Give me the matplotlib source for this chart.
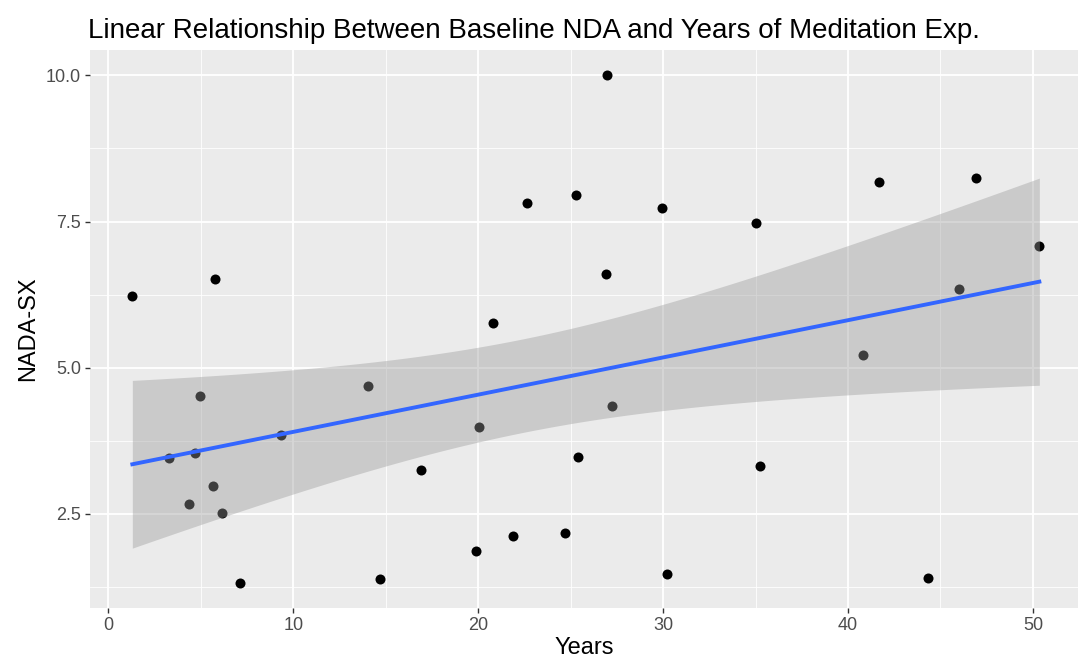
#!/usr/bin/env python3
"""Scatter of baseline NADA-SX vs years of meditation, with lm fit and 95% band."""

import numpy as np
import matplotlib
matplotlib.use("Agg")
import matplotlib.pyplot as plt
from matplotlib.ticker import MultipleLocator

years = [1.30, 5.77, 4.96, 14.06, 3.30, 4.69, 9.34, 5.64, 4.35, 6.17, 7.12, 14.69,
         16.93, 26.99, 22.64, 25.31, 29.96, 26.93, 20.81, 20.05, 27.26, 25.39, 19.90,
         21.90, 24.68, 30.22, 35.01, 41.70, 46.91, 50.35, 46.03, 40.80, 35.25, 44.35]
nada_sx = [6.23, 6.52, 4.52, 4.68, 3.45, 3.54, 3.85, 2.98, 2.67, 2.52, 1.32, 1.39,
           3.25, 10.00, 7.82, 7.95, 7.74, 6.60, 5.76, 3.99, 4.35, 3.48, 1.86,
           2.12, 2.18, 1.47, 7.48, 8.17, 8.24, 7.08, 6.35, 5.21, 3.32, 1.40]

x_ticks = [0, 10, 20, 30, 40, 50]
y_ticks = [2.5, 5.0, 7.5, 10.0]
y_tick_labels = ["2.5", "5.0", "7.5", "10.0"]

title = "Linear Relationship Between Baseline NDA and Years of Meditation Exp."
x_label = "Years"
y_label = "NADA-SX"

T_975_DF32 = 2.0369  # t quantile for 95% interval, n - 2 = 32


def lm_band(x, y, n_grid=80):
    x = np.asarray(x)
    y = np.asarray(y)
    n = len(x)
    slope, intercept = np.polyfit(x, y, 1)
    resid = y - (slope * x + intercept)
    s = np.sqrt(np.sum(resid ** 2) / (n - 2))
    xbar = x.mean()
    sxx = np.sum((x - xbar) ** 2)
    grid = np.linspace(x.min(), x.max(), n_grid)
    fit = slope * grid + intercept
    se = s * np.sqrt(1.0 / n + (grid - xbar) ** 2 / sxx)
    return grid, fit, fit - T_975_DF32 * se, fit + T_975_DF32 * se


def main() -> None:
    plt.rcParams["font.family"] = ["Liberation Sans", "DejaVu Sans"]

    fig = plt.figure(figsize=(10.78, 6.68), dpi=100)
    ax = fig.add_axes([90 / 1078, 59.7 / 668, 988 / 1078, 558.3 / 668])
    ax.set_facecolor("#EBEBEB")
    for spine in ax.spines.values():
        spine.set_visible(False)

    ax.scatter(years, nada_sx, s=52, color="black", linewidths=0, zorder=3)

    grid, fit, lo, hi = lm_band(years, nada_sx)
    ax.fill_between(grid, lo, hi, color="#999999", alpha=0.4, linewidth=0, zorder=4)
    ax.plot(grid, fit, color="#3366FF", linewidth=2.8, zorder=5)

    ymin, ymax = min(nada_sx), max(nada_sx)
    pad = 0.05 * (ymax - ymin)
    ax.set_ylim(ymin - pad, ymax + pad)
    ax.set_xlim(-0.99, 52.44)

    ax.set_xticks(x_ticks)
    ax.set_yticks(y_ticks)
    ax.set_yticklabels(y_tick_labels)
    ax.xaxis.set_minor_locator(MultipleLocator(5))
    ax.yaxis.set_minor_locator(MultipleLocator(1.25))
    ax.grid(which="major", color="white", linewidth=1.3, zorder=0)
    ax.grid(which="minor", color="white", linewidth=0.6, zorder=0)
    ax.set_axisbelow(True)
    ax.tick_params(which="major", length=3.5, width=1.0, color="#333333",
                   labelcolor="#4D4D4D", labelsize=13, pad=3)
    ax.tick_params(which="minor", length=0)

    ax.set_xlabel(x_label, fontsize=17, color="black", labelpad=2)
    ax.set_ylabel(y_label, fontsize=17, color="black", labelpad=5)
    fig.text(88 / 1078, 1 - 31 / 668, title, fontsize=20, color="black",
             ha="left", va="center")

    fig.savefig("out.png", dpi=100)
    plt.close(fig)


if __name__ == "__main__":
    main()
